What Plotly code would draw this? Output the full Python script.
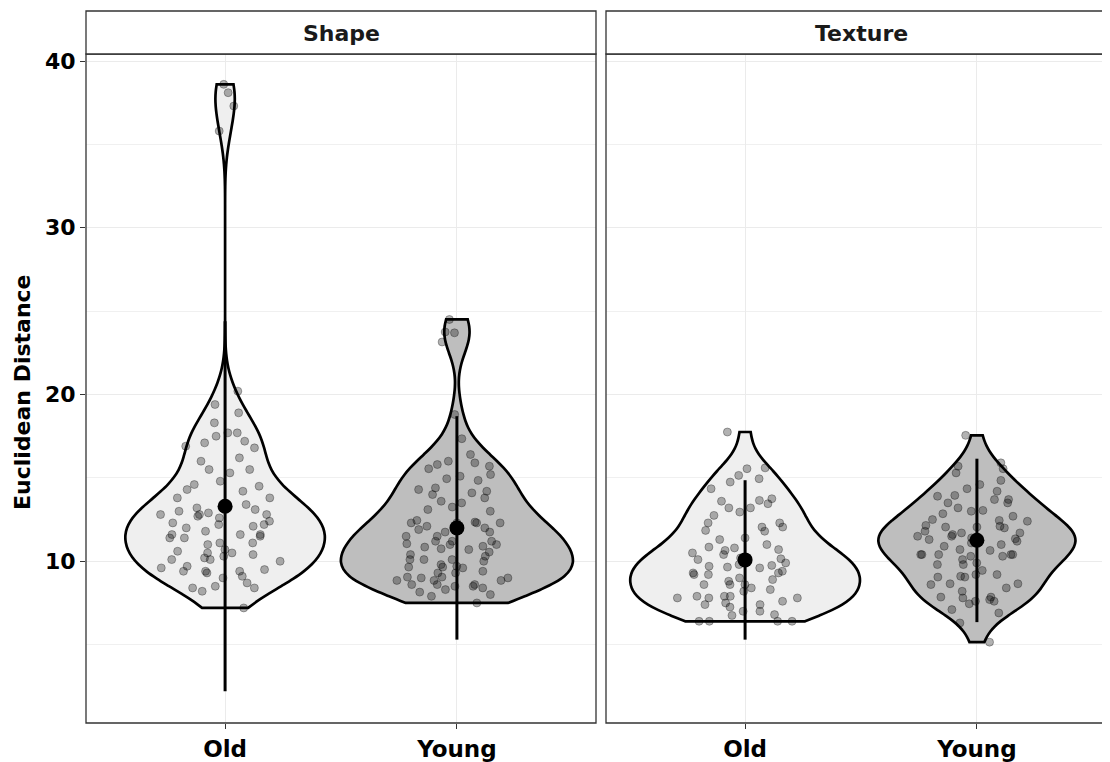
import numpy as np
import plotly.graph_objects as go

# ---------------- data ----------------
groups = ["Old", "Young"]
facets = ["Shape", "Texture"]
group_pos = [1, 2]

shape_old = [38.6, 38.1, 37.3, 35.8, 20.2, 19.4, 18.9, 18.3, 17.7, 17.7, 17.5, 17.2, 17.1,
             16.9, 16.8, 16.2, 16.0, 15.5, 15.5, 15.3, 14.8, 14.6, 14.5, 14.3, 14.2, 13.8,
             13.8, 13.4, 13.2, 13.4, 13.1, 12.9, 13.0, 12.8, 12.8, 12.8, 12.7, 12.6, 12.3,
             12.4, 12.2, 12.2, 12.1, 12.0, 11.8, 11.6, 11.6, 11.6, 11.4, 11.5, 11.4, 11.1,
             11.1, 11.0, 10.6, 10.7, 10.5, 10.5, 10.4, 10.2, 10.1, 10.3, 10.1, 10.0, 9.6,
             9.7, 9.5, 9.4, 9.4, 9.4, 9.1, 9.3, 9.0, 8.7, 8.5, 8.4, 8.4, 8.2, 7.2]
shape_young = [24.5, 23.7, 23.75, 23.15, 18.8, 17.35, 16.4, 15.8, 16.0, 15.9, 15.55, 15.7,
               15.2, 15.1, 14.85, 14.95, 14.4, 14.3, 14.2, 14.0, 14.1, 13.8, 13.6, 13.5,
               13.25, 13.1, 13.0, 12.45, 12.35, 12.3, 12.3, 12.3, 12.3, 12.1, 12.0, 11.75,
               11.9, 11.75, 11.5, 11.5, 11.2, 11.2, 11.2, 11.05, 10.9, 10.75, 11.0, 11.0,
               10.85, 10.7, 10.55, 10.4, 10.3, 10.1, 10.1, 10.1, 10.0, 9.8, 9.65, 9.4, 9.6,
               9.65, 9.7, 9.3, 9.3, 9.05, 9.0, 9.05, 8.85, 9.0, 8.85, 8.85, 8.5, 8.6, 8.5,
               8.6, 8.6, 8.3, 8.4, 8.15, 7.9, 8.0, 7.5]
texture_old = [17.75, 15.6, 15.55, 15.15, 14.95, 14.75, 14.35, 13.75, 13.45, 13.65, 13.6,
               13.2, 13.2, 12.95, 12.75, 12.3, 12.3, 12.05, 12.05, 11.85, 11.8, 11.3, 11.4,
               11.0, 10.85, 10.8, 10.65, 10.15, 10.1, 9.75, 9.65, 9.6, 9.8, 9.3, 9.7, 9.4,
               9.2, 9.3, 9.2, 9.0, 8.9, 8.6, 8.8, 8.4, 8.6, 8.6, 8.2, 8.3, 7.6, 7.9, 7.8,
               7.8, 7.8, 7.9, 7.9, 7.5, 7.0, 7.0, 7.25, 7.4, 7.4, 6.8, 6.75, 6.4, 6.4, 6.4,
               6.4, 10.4, 10.5, 10.2, 9.9, 10.7]
texture_young = [17.55, 15.9, 15.55, 15.3, 15.7, 14.85, 14.6, 14.35, 14.2, 13.9, 13.95,
                 13.7, 13.7, 13.5, 13.5, 13.2, 13.05, 13.0, 12.85, 12.7, 12.5, 12.45, 12.4,
                 12.15, 12.1, 12.0, 12.05, 12.05, 11.7, 11.5, 11.7, 11.35, 11.8, 11.4, 11.2,
                 10.65, 10.7, 10.4, 10.4, 10.3, 10.4, 10.4, 10.3, 10.4, 10.1, 9.9, 9.8, 9.8,
                 9.45, 9.05, 9.2, 9.1, 9.2, 9.05, 8.65, 8.6, 8.65, 8.4, 8.2, 7.85, 7.7, 7.85,
                 7.6, 7.8, 7.6, 7.45, 7.1, 6.9, 6.3, 5.15, 11.3, 11.1, 11.5, 10.9, 11.6, 11.0]

# mean and mean +/- 2 SD summaries
shape_mean = [13.3, 12.0]
shape_low = [2.2, 5.3]
shape_high = [24.4, 18.7]
texture_mean = [10.08, 11.26]
texture_low = [5.3, 6.35]
texture_high = [14.86, 16.15]

fills = ["#EFEFEF", "#BEBEBE"]
violin_widths = {"Shape": [0.86, 1.0], "Texture": [0.99, 0.85]}

# ---------------- geometry (window pixels; page body has an 8px margin) ----------------
OFF = 8
W, H = 1110 - OFF, 762 - OFF
def px(x):
    return (x - OFF) / W
def py(y):
    return 1 - (y - OFF) / H

p1 = (86, 596)
p2 = (606, 1117)
top, bottom = 54, 723
unit = (p1[1] - p1[0]) / 2.2

FONT = "DejaVu Sans"

fig = go.Figure()

def nrd0(v):
    v = np.asarray(v, float)
    sd = v.std(ddof=1)
    iqr = np.percentile(v, 75) - np.percentile(v, 25)
    lo = min(sd, iqr / 1.34)
    return 0.9 * lo * len(v) ** (-0.2)

data = {"Shape": [shape_old, shape_young], "Texture": [texture_old, texture_young]}
summ = {"Shape": (shape_mean, shape_low, shape_high),
        "Texture": (texture_mean, texture_low, texture_high)}
axes = {"Shape": ("x", "y"), "Texture": ("x2", "y2")}

for f in facets:
    xa, ya = axes[f]
    for i, g in enumerate(groups):
        vals = data[f][i]
        w = violin_widths[f][i]
        fig.add_trace(go.Violin(
            x0=group_pos[i], y=vals, xaxis=xa, yaxis=ya,
            width=w, scalemode="width", spanmode="hard",
            bandwidth=nrd0(vals),
            fillcolor=fills[i], line=dict(color="black", width=2.7),
            points="all", pointpos=0, jitter=min(1.0, 0.6 / w),
            marker=dict(size=8, color="rgba(0,0,0,0.3)",
                        line=dict(color="rgba(0,0,0,0.3)", width=1)),
            box_visible=False, meanline_visible=False,
            showlegend=False, hoverinfo="skip", opacity=1,
        ))
    m, lo, hi = summ[f]
    fig.add_trace(go.Scatter(
        x=group_pos, y=m, xaxis=xa, yaxis=ya, mode="markers",
        marker=dict(size=15, color="black", symbol="circle"),
        error_y=dict(type="data", symmetric=False,
                     array=[h - mm for h, mm in zip(hi, m)],
                     arrayminus=[mm - l for mm, l in zip(m, lo)],
                     width=0, thickness=3, color="black"),
        showlegend=False, hoverinfo="skip",
    ))

yr = [0.3, 40.42]

common_y = dict(range=yr, tick0=0, dtick=10, showgrid=True, gridcolor="#EBEBEB",
                gridwidth=1.2, zeroline=False, showline=False,
                minor=dict(dtick=5, showgrid=True, gridcolor="#F0F0F0", gridwidth=0.8),
                domain=[py(bottom), py(top)], fixedrange=True)
common_x = dict(tickvals=group_pos, ticktext=groups, showgrid=True, gridcolor="#EBEBEB",
                gridwidth=1.2, zeroline=False, showline=False, ticks="outside",
                ticklen=5, tickcolor="#333333", tickwidth=1.1,
                tickfont=dict(family=FONT, size=23, color="black", weight="bold"),
                fixedrange=True)

fig.update_layout(
    width=W, height=H, margin=dict(l=0, r=0, t=0, b=0, autoexpand=False),
    paper_bgcolor="white", plot_bgcolor="white",
    xaxis=dict(common_x, domain=[px(p1[0]), px(p1[1])], range=[0.4, 2.6], anchor="y"),
    xaxis2=dict(common_x, domain=[px(p2[0]), 1.0],
                range=[0.4, 0.4 + (1110 - p2[0]) / unit], anchor="y2"),
    yaxis=dict(common_y, anchor="x", ticks="outside", ticklen=5, tickcolor="#333333",
               tickwidth=1.1,
               tickfont=dict(family=FONT, size=22, color="black", weight="bold")),
    yaxis2=dict(common_y, anchor="x2", matches="y", showticklabels=False, ticks=""),
    showlegend=False,
)

shapes = []
for (a, b) in (p1, p2):
    shapes.append(dict(type="rect", xref="paper", yref="paper",
                       x0=px(a), x1=px(b), y0=py(bottom), y1=py(top),
                       line=dict(color="#333333", width=1.3), fillcolor="rgba(0,0,0,0)",
                       layer="above"))
    shapes.append(dict(type="rect", xref="paper", yref="paper",
                       x0=px(a), x1=px(b), y0=py(top), y1=py(11),
                       line=dict(color="#333333", width=1.3), fillcolor="white"))
fig.update_layout(shapes=shapes)

ann = []
for (a, b), name in zip((p1, p2), facets):
    ann.append(dict(text=name, x=px((a + b) / 2), y=py(34),
                    xref="paper", yref="paper", showarrow=False,
                    font=dict(family=FONT, size=22, color="#1A1A1A", weight="bold"),
                    xanchor="center", yanchor="middle"))
ann.append(dict(text="Euclidean Distance", x=px(22), y=py(392),
                xref="paper", yref="paper", showarrow=False, textangle=-90,
                font=dict(family=FONT, size=22, color="black", weight="bold"),
                xanchor="center", yanchor="middle"))
fig.update_layout(annotations=ann)

fig.write_html("out.html")
